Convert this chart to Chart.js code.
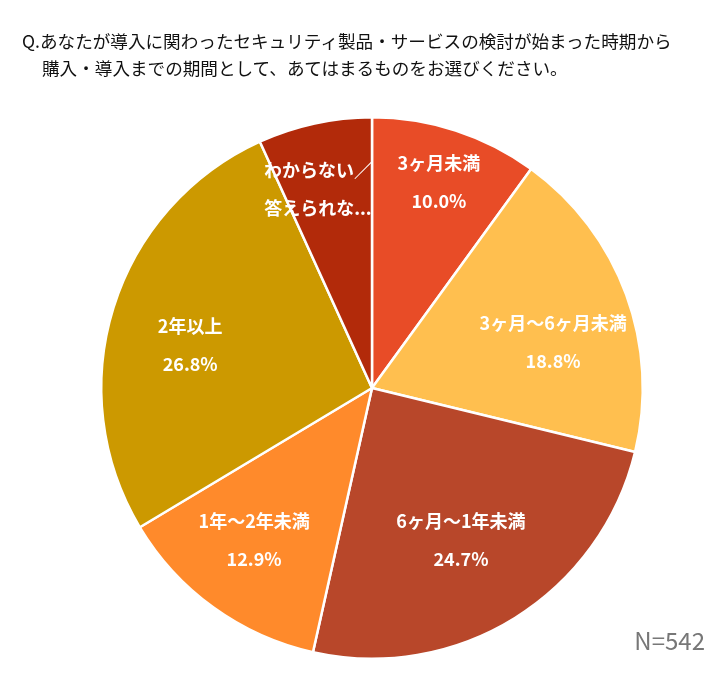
<!DOCTYPE html>
<html>
<head>
<meta charset="utf-8">
<script src="https://cdn.jsdelivr.net/npm/chart.js@4"></script>
<style>
  body { margin: 0; background: #fff; font-family: "Noto Sans CJK JP", sans-serif; }
  #wrap { position: relative; width: 724px; height: 682px; }
  #title { position: absolute; left: 22px; top: 27px; font-size: 17.6px; line-height: 27px; color: #111; }
  #title .l2 { padding-left: 20px; }
  #n { position: absolute; right: 19px; top: 622px; font-size: 24px; color: #777; }
  canvas { position: absolute; left: 0; top: 0; }
</style>
</head>
<body>
<div id="wrap">
  <canvas id="pie" width="724" height="682"></canvas>
  <div id="title">Q.あなたが導入に関わったセキュリティ製品・サービスの検討が始まった時期から<br><span class="l2">購入・導入までの期間として、あてはまるものをお選びください。</span></div>
  <div id="n">N=542</div>
</div>
<script>
const categories = ['3ヶ月未満', '3ヶ月～6ヶ月未満', '6ヶ月～1年未満', '1年～2年未満', '2年以上', 'わからない／答えられない']
const shares = [10.0, 18.8, 24.7, 12.9, 26.8, 6.8]
// label text as shown on the slices (last one is cut off in the original)
const sliceLabels = [['3ヶ月未満'], ['3ヶ月～6ヶ月未満'], ['6ヶ月～1年未満'], ['1年～2年未満'], ['2年以上'], ['わからない／', '答えられな...']]
const showPct = [true, true, true, true, true, false]

const colors = ['#E84C27', '#FFBF4F', '#B8472A', '#FF8A2B', '#CC9900', '#B22A0A']
const labelRadius = [0.8, 0.69, 0.65, 0.71, 0.69, 0.76]
const labelAngleShift = [0, 6, 1.5, 2, -4, -3]

const sliceText = {
  id: 'sliceText',
  afterDatasetsDraw(chart) {
    const ctx = chart.ctx
    const meta = chart.getDatasetMeta(0)
    ctx.save()
    ctx.fillStyle = '#fff'
    ctx.textAlign = 'center'
    ctx.textBaseline = 'middle'
    ctx.font = '600 18px "Noto Sans CJK JP", sans-serif'
    meta.data.forEach((arc, i) => {
      const mid = (arc.startAngle + arc.endAngle) / 2 + labelAngleShift[i] * Math.PI / 180
      const r = arc.outerRadius * labelRadius[i]
      const x = arc.x + Math.cos(mid) * r
      const y = arc.y + Math.sin(mid) * r
      const lines = sliceLabels[i].slice()
      if (showPct[i]) lines.push(shares[i].toFixed(1) + '%')
      const gap = 38
      const y0 = y - (lines.length - 1) * gap / 2
      lines.forEach((t, k) => ctx.fillText(t, x, y0 + k * gap))
    })
    ctx.restore()
  }
}

new Chart(document.getElementById('pie'), {
  type: 'pie',
  data: {
    labels: categories,
    datasets: [{
      data: shares,
      backgroundColor: colors,
      borderColor: '#fff',
      borderWidth: 2.5,
    }],
  },
  options: {
    responsive: false,
    animation: false,
    layout: { padding: { top: 116, bottom: 22, left: 100, right: 80 } },
    plugins: {
      legend: { display: false },
      tooltip: { enabled: false },
    },
  },
  plugins: [sliceText],
})
</script>
</body>
</html>
